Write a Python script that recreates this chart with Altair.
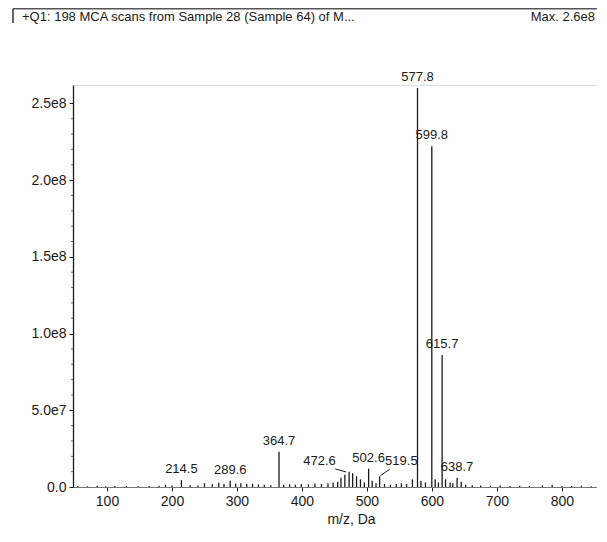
import altair as alt
import pandas as pd

# ---- data (m/z, intensity in counts) ----
mz = [55, 70, 85, 98, 112, 130, 148, 165, 180, 190, 200, 214.5, 228, 240, 250,
      262, 272, 280, 289.6, 298, 306, 315, 324, 333, 342, 352, 364.7, 372, 381,
      390, 399, 410, 420, 430, 440, 448, 455, 460, 466, 472.6, 478, 484, 490,
      496, 502.6, 508, 514, 519.5, 527, 536, 545, 553, 561, 570, 577.8, 583,
      590, 599.8, 605, 610, 615.7, 621, 628, 632, 638.7, 645, 652, 662, 675,
      690, 705, 720, 735, 750, 770, 785, 800, 815, 830, 845]
intensity_e6 = [0.6, 0.5, 0.8, 0.5, 0.6, 0.7, 0.5, 0.6, 0.8, 1.5, 1.0, 4.5, 1.2,
                1.0, 2.5, 1.8, 2.8, 2.0, 4.0, 2.2, 2.5, 2.0, 2.2, 1.8, 1.5, 1.2,
                23.0, 1.5, 1.8, 1.5, 2.0, 1.8, 2.2, 2.0, 2.5, 3.0, 3.5, 6.0, 8.0,
                10.0, 9.0, 7.0, 5.0, 3.0, 12.0, 4.0, 2.5, 7.0, 2.0, 1.5, 2.0,
                2.5, 2.0, 5.0, 260.0, 4.0, 3.0, 222.0, 5.0, 3.0, 86.0, 5.0, 3.0,
                2.5, 6.0, 3.5, 1.5, 1.2, 1.0, 0.8, 1.0, 0.7, 0.8, 0.6, 0.9, 1.5,
                0.7, 0.6, 0.8, 0.5]

label_mz = [214.5, 289.6, 364.7, 502.6, 577.8, 599.8, 615.7, 638.7]
label_text = ["214.5", "289.6", "364.7", "502.6", "577.8", "599.8", "615.7", "638.7"]

# labels with leader lines
side_label_text = ["472.6", "519.5"]
side_label_mz = [427.0, 553.0]
side_label_int = [12.5e6, 12.5e6]
leader_mz = [451.0, 521.0]
leader_mz2 = [468.0, 535.0]
leader_int = [11.8e6, 7.5e6]
leader_int2 = [9.8e6, 11.6e6]

y_ticks = [0, 5e7, 1e8, 1.5e8, 2e8, 2.5e8]
x_ticks = [100, 200, 300, 400, 500, 600, 700, 800]
minor_y = [v * 1e7 for v in range(1, 26) if v % 5 != 0]

header = "+Q1: 198 MCA scans from Sample 28 (Sample 64) of M..."
header_right = "Max. 2.6e8"

FONT = "Liberation Sans Narrow, Arial Narrow, Liberation Sans"
INK = "#1a1a1a"

peaks = pd.DataFrame({"mz": mz, "inten": [v * 1e6 for v in intensity_e6]})
lookup = dict(zip(peaks.mz, peaks.inten))
labels = pd.DataFrame({"mz": label_mz, "text": label_text,
                       "inten": [lookup[m] for m in label_mz]})
side = pd.DataFrame({"mz": side_label_mz, "text": side_label_text, "inten": side_label_int})
leaders = pd.DataFrame({"mz": leader_mz, "mz2": leader_mz2,
                        "inten": leader_int, "inten2": leader_int2})

xscale = alt.Scale(domain=[47.7, 854], nice=False, zero=False)
yscale = alt.Scale(domain=[0, 2.62e8], nice=False)

xaxis = alt.Axis(values=x_ticks, title="m/z, Da", grid=False, labelFont=FONT,
                 titleFont=FONT, labelFontSize=14, titleFontSize=14,
                 titleFontWeight="normal", labelColor=INK, titleColor=INK,
                 domainColor="#777", domainWidth=1, tickColor=INK, tickSize=4,
                 labelPadding=3, titlePadding=4, titleX=278, labelFlush=False)
yaxis = alt.Axis(values=y_ticks, title=None, grid=False, labelFont=FONT,
                 labelFontSize=14, labelColor=INK, domainColor=INK,
                 domainWidth=1.3, tickColor=INK, tickSize=4, labelPadding=3,
                 labelExpr="datum.value == 0 ? '0.0' : replace(format(datum.value, '.1e'), '+', '')")

bars = alt.Chart(peaks).mark_rule(color=INK, strokeWidth=1.3).encode(
    x=alt.X("mz:Q", scale=xscale, axis=xaxis),
    y=alt.Y("inten:Q", scale=yscale, axis=yaxis),
    y2=alt.datum(0),
)

minor = alt.Chart(pd.DataFrame({"v": minor_y})).mark_rule(color="#666", strokeWidth=1).encode(
    x=alt.value(-2), x2=alt.value(0), y=alt.Y("v:Q", scale=yscale),
)

lab = alt.Chart(labels).mark_text(font=FONT, fontSize=13, color=INK, baseline="bottom",
                                  align="center", dy=-4).encode(
    x=alt.X("mz:Q", scale=xscale), y=alt.Y("inten:Q", scale=yscale), text="text:N")

side_lab = alt.Chart(side).mark_text(font=FONT, fontSize=13, color=INK, baseline="bottom",
                                     align="center").encode(
    x=alt.X("mz:Q", scale=xscale), y=alt.Y("inten:Q", scale=yscale), text="text:N")

lead = alt.Chart(leaders).mark_rule(color=INK, strokeWidth=1).encode(
    x=alt.X("mz:Q", scale=xscale), x2="mz2:Q",
    y=alt.Y("inten:Q", scale=yscale), y2="inten2:Q")

hdr = alt.Chart(pd.DataFrame({"t": [header]})).mark_text(
    font=FONT, fontSize=13, color=INK, align="left", baseline="middle").encode(
    text="t:N", x=alt.value(-51), y=alt.value(-68))
hdr_r = alt.Chart(pd.DataFrame({"t": [header_right]})).mark_text(
    font=FONT, fontSize=13, color=INK, align="right", baseline="middle").encode(
    text="t:N", x=alt.value(522), y=alt.value(-68))

top_line = alt.Chart(pd.DataFrame({"a": [0]})).mark_rule(color="#555", strokeWidth=1.5).encode(
    x=alt.value(-60), x2=alt.value(530), y=alt.value(-76.2))
bracket = alt.Chart(pd.DataFrame({"a": [0]})).mark_rule(color="#333", strokeWidth=1.5).encode(
    x=alt.value(-60), y=alt.value(-76.2), y2=alt.value(-62))

chart = alt.layer(bars, minor, lead, lab, side_lab, hdr, hdr_r, top_line, bracket).properties(
    width=524, height=402,
    autosize=alt.AutoSizeParams(type="none"),
    padding={"left": 65, "top": 77, "right": 0, "bottom": 41},
).configure_view(stroke=None).configure(background="white")

chart.save("out.html", embed_options={"renderer": "svg", "actions": False})
